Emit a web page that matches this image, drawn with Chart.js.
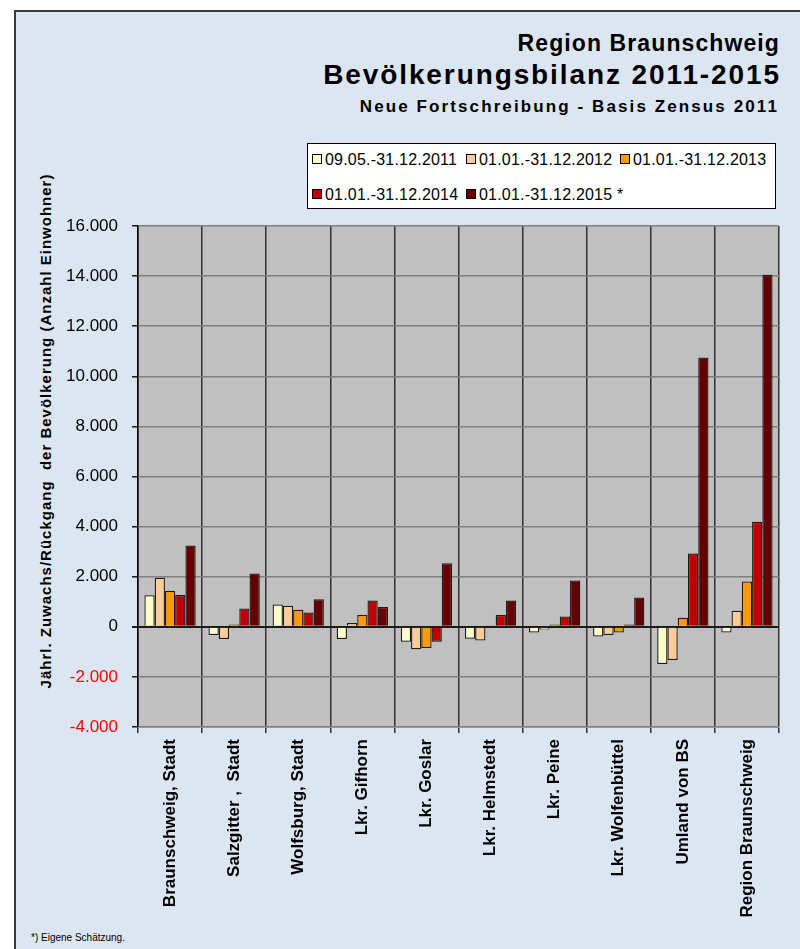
<!DOCTYPE html>
<html>
<head>
<meta charset="utf-8">
<script src="https://cdn.jsdelivr.net/npm/chart.js@4/dist/chart.umd.min.js"></script>
<style>
  html, body { margin:0; padding:0; background:#ffffff; width:800px; height:949px; overflow:hidden; font-family:"Liberation Sans", Arial, sans-serif; }
  #frame { position:absolute; left:14px; top:10px; width:800px; height:960px; background:#DCE6F2; border-left:2px solid #3a3a3a; border-top:2px solid #3a3a3a; }
  #cv { position:absolute; left:0; top:0; }
  .t { position:absolute; right:21px; font-weight:bold; color:#000; white-space:nowrap; text-align:right; }
  #legend { position:absolute; left:307px; top:143px; width:469px; height:66px; background:#fff; border:1px solid #000; box-sizing:border-box; }
  .li { position:absolute; font-size:16px; color:#000; white-space:nowrap; line-height:16px; letter-spacing:0.2px; }
  .sw { display:inline-block; width:8px; height:8px; border:1px solid #000; margin-right:3px; vertical-align:1px; }
  #ytitle { position:absolute; left:45px; top:431px; transform:translate(-50%,-50%) rotate(-90deg); font-weight:bold; font-size:15px; letter-spacing:1px; white-space:pre; }
  #foot { position:absolute; left:31px; top:932px; font-size:10px; }
</style>
</head>
<body>
<div id="frame"></div>
<div class="t" style="top:30px;font-size:23px;letter-spacing:1.1px;right:20px;">Region Braunschweig</div>
<div class="t" style="top:59px;font-size:28px;letter-spacing:1.9px;right:19px;">Bevölkerungsbilanz 2011-2015</div>
<div class="t" style="top:97px;font-size:17px;letter-spacing:2.1px;right:21px;">Neue Fortschreibung - Basis Zensus 2011</div>
<div id="legend"></div>
<div id="ytitle">Jährl. Zuwachs/Rückgang  der Bevölkerung (Anzahl Einwohner)</div>
<div id="foot">*) Eigene Schätzung.</div>
<canvas id="cv" width="800" height="949"></canvas>
<script>
const categories = ["Braunschweig, Stadt", "Salzgitter ,  Stadt", "Wolfsburg, Stadt", "Lkr. Gifhorn", "Lkr. Goslar", "Lkr. Helmstedt", "Lkr. Peine", "Lkr. Wolfenbüttel", "Umland von BS", "Region Braunschweig"];
const seriesNames = ["09.05.-31.12.2011", "01.01.-31.12.2012", "01.01.-31.12.2013", "01.01.-31.12.2014", "01.01.-31.12.2015 *"];
const s2011 = [1260, -330, 890, -490, -600, -480, -230, -390, -1490, -230];
const s2012 = [1960, -490, 840, 150, -900, -550, -110, -330, -1330, 640];
const s2013 = [1440, 90, 680, 470, -850, 50, 90, -230, 360, 1810];
const s2014 = [1270, 730, 570, 1050, -600, 470, 410, 90, 2930, 4190];
const s2015 = [3250, 2130, 1100, 790, 2540, 1050, 1850, 1170, 10750, 14050];
const seriesColors = ["#FFFFCC", "#FFCC99", "#FF9900", "#C00000", "#660000"];
const yTicks = [-4000, -2000, 0, 2000, 4000, 6000, 8000, 10000, 12000, 14000, 16000];
const yTickLabels = ["-4.000", "-2.000", "0", "2.000", "4.000", "6.000", "8.000", "10.000", "12.000", "14.000", "16.000"];

const allSeries = [s2011, s2012, s2013, s2014, s2015];
const FONT = "'Liberation Sans', Arial, sans-serif";

// HTML legend
const legendPos = [[4, 8], [158, 8], [312, 8], [4, 43], [158, 43]];
const lg = document.getElementById('legend');
seriesNames.forEach((n, i) => {
  const d = document.createElement('div');
  d.className = 'li';
  d.style.left = legendPos[i][0] + 'px';
  d.style.top = legendPos[i][1] + 'px';
  d.innerHTML = '<span class="sw" style="background:' + seriesColors[i] + '"></span>' + n;
  lg.appendChild(d);
});

const plotBg = {
  id: 'plotBg',
  beforeDraw(chart) {
    const { ctx, chartArea: a } = chart;
    ctx.save();
    ctx.fillStyle = '#C0C0C0';
    ctx.fillRect(a.left, a.top, a.right - a.left, a.bottom - a.top);
    ctx.restore();
  }
};

new Chart(document.getElementById('cv'), {
  type: 'bar',
  data: {
    labels: categories,
    datasets: allSeries.map((d, i) => ({
      label: seriesNames[i],
      data: d,
      backgroundColor: seriesColors[i],
      borderColor: '#1a1a1a',
      borderWidth: 1.3,
      categoryPercentage: 0.8,
      barPercentage: 1.0
    }))
  },
  options: {
    responsive: false,
    animation: false,
    devicePixelRatio: 1,
    layout: { padding: { top: 226, right: 21, left: 0, bottom: 0 } },
    plugins: { legend: { display: false }, title: { display: false }, tooltip: { enabled: false } },
    scales: {
      x: {
        grid: { offset: true, color: '#333333', lineWidth: 1.5, tickLength: 6, tickColor: '#333333' },
        border: { display: true, color: '#808080', width: 1.5 },
        ticks: { maxRotation: 90, minRotation: 90, autoSkip: false, padding: 6, color: '#000', font: { family: FONT, size: 17, weight: 'bold' } },
        afterFit: s => { s.height = 949 - 727; }
      },
      y: {
        min: -4000, max: 16000,
        afterBuildTicks: s => { s.ticks = yTicks.map(v => ({ value: v })); },
        ticks: {
          callback: (v, i) => yTickLabels[i],
          color: ctx => (ctx.tick && ctx.tick.value < 0) ? '#FF0000' : '#000000',
          padding: 14,
          font: { family: FONT, size: 17 }
        },
        grid: {
          color: ctx => (ctx.tick && ctx.tick.value === 0) ? '#1a1a1a' : '#808080',
          lineWidth: ctx => (ctx.tick && ctx.tick.value === 0) ? 2 : 1.5,
          tickLength: 6,
          tickColor: '#1a1a1a'
        },
        border: { display: true, color: '#000', width: 1.5 },
        afterFit: s => { s.width = 138; }
      }
    }
  },
  plugins: [plotBg]
});
</script>
</body>
</html>
